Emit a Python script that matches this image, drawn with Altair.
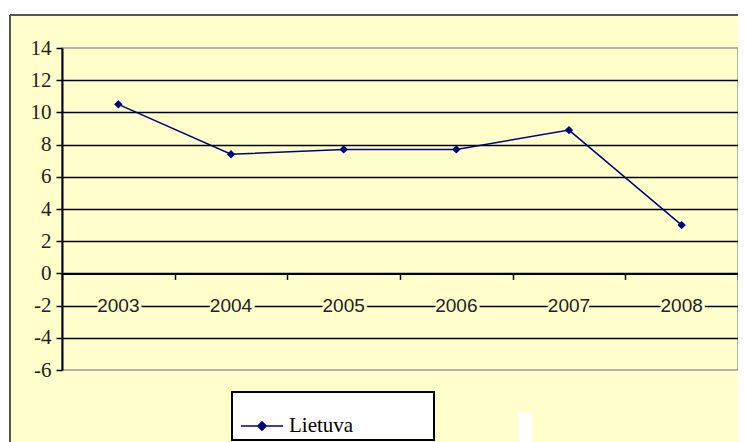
import altair as alt
import pandas as pd

years = ["2003", "2004", "2005", "2006", "2007", "2008"]
values = [10.5, 7.4, 7.7, 7.7, 8.9, 3.0]
series_name = "Lietuva"
y_ticks = [14, 12, 10, 8, 6, 4, 2, 0, -2, -4, -6]

df = pd.DataFrame({"year": years, "value": values, "series": [series_name] * len(years)})

W, H = 676, 322
YMIN, YMAX = -6, 14
zero_offset = -H * (0 - YMIN) / (YMAX - YMIN)

BG = "#FFFFCC"
NAVY = "#000080"
SERIF = "Liberation Serif, Times New Roman, serif"

x_scale = alt.Scale(domain=years, paddingInner=0, paddingOuter=0)
y_scale = alt.Scale(domain=[YMIN, YMAX], nice=False, zero=False)

x_axis = alt.Axis(title=None, labels=False, orient="bottom", offset=zero_offset,
                  domainColor="black", domainWidth=2, tickColor="black", tickWidth=1.5,
                  tickSize=6, tickBand="extent", grid=False)
y_axis = alt.Axis(title=None, values=y_ticks, labelFont=SERIF, labelFontSize=21,
                  labelExpr="'' + datum.value",
                  labelColor="#222", labelPadding=5, domainColor="black", domainWidth=2,
                  tickColor="black", tickSize=6, tickWidth=1.5, gridColor="black", gridWidth=1.5,
                  gridOpacity={"condition": {"test": "datum.value == 14 || datum.value == -6", "value": 0}, "value": 1})

X = alt.X("year:N", scale=x_scale, axis=x_axis, sort=years)

line = alt.Chart(df).mark_line(
    strokeWidth=1.5,
    point=alt.OverlayMarkDef(shape="diamond", size=70, filled=True, color=NAVY),
).encode(
    x=X,
    y=alt.Y("value:Q", scale=y_scale, axis=y_axis),
    color=alt.Color("series:N", scale=alt.Scale(range=[NAVY]), legend=alt.Legend(
        title=None, orient="none", legendX=178, legendY=356,
        symbolType="M-1,0H1M-0.2,0L0,-0.2L0.2,0L0,0.2Z", symbolSize=1764,
        symbolStrokeWidth=1.5, symbolFillColor=NAVY, symbolStrokeColor=NAVY,
        labelFont=SERIF, labelFontSize=21, labelColor="black",
        labelOffset=5, padding=0, zindex=1)),
)

halo = alt.Chart(df).mark_text(font="Liberation Sans", fontSize=19, color=BG, stroke=BG,
                               strokeWidth=6, baseline="middle").encode(
    x=X, y=alt.Y(datum=-2, scale=y_scale, axis=y_axis), text="year:N")
labels = alt.Chart(df).mark_text(font="Liberation Sans", fontSize=19, color="#222",
                                 baseline="middle").encode(
    x=X, y=alt.Y(datum=-2, scale=y_scale, axis=y_axis), text="year:N")

one = alt.Data(values=[{}])
top_strip = alt.Chart(one).mark_rect(color="white").encode(
    x=alt.value(-70), x2=alt.value(720), y=alt.value(-60), y2=alt.value(-33))
left_strip = alt.Chart(one).mark_rect(color="white").encode(
    x=alt.value(-70), x2=alt.value(-52), y=alt.value(-60), y2=alt.value(460))
frame_top = alt.Chart(one).mark_rule(color="#555", strokeWidth=2).encode(
    x=alt.value(-52), x2=alt.value(720), y=alt.value(-33))
frame_left = alt.Chart(one).mark_rule(color="#555", strokeWidth=2).encode(
    x=alt.value(-52), y=alt.value(-33), y2=alt.value(460))
legend_box = alt.Chart(one).mark_rect(fill="white", stroke="black", strokeWidth=2).encode(
    x=alt.value(170), x2=alt.value(372), y=alt.value(344), y2=alt.value(392))
white_patch = alt.Chart(one).mark_rect(color="white").encode(
    x=alt.value(456), x2=alt.value(470), y=alt.value(364), y2=alt.value(460))

chart = alt.layer(
    line, halo, labels, top_strip, left_strip, frame_top, frame_left, legend_box, white_patch
).properties(
    width=W, height=H,
    padding={"left": 54, "top": 40, "right": 0, "bottom": 80},
    autosize="none",
    background=BG,
).configure_view(stroke="#999", strokeWidth=1.5).configure_axisY(
    labelFont=SERIF, labelFontSize=21)

chart.save("out.html", embed_options={"renderer": "svg", "actions": False})
